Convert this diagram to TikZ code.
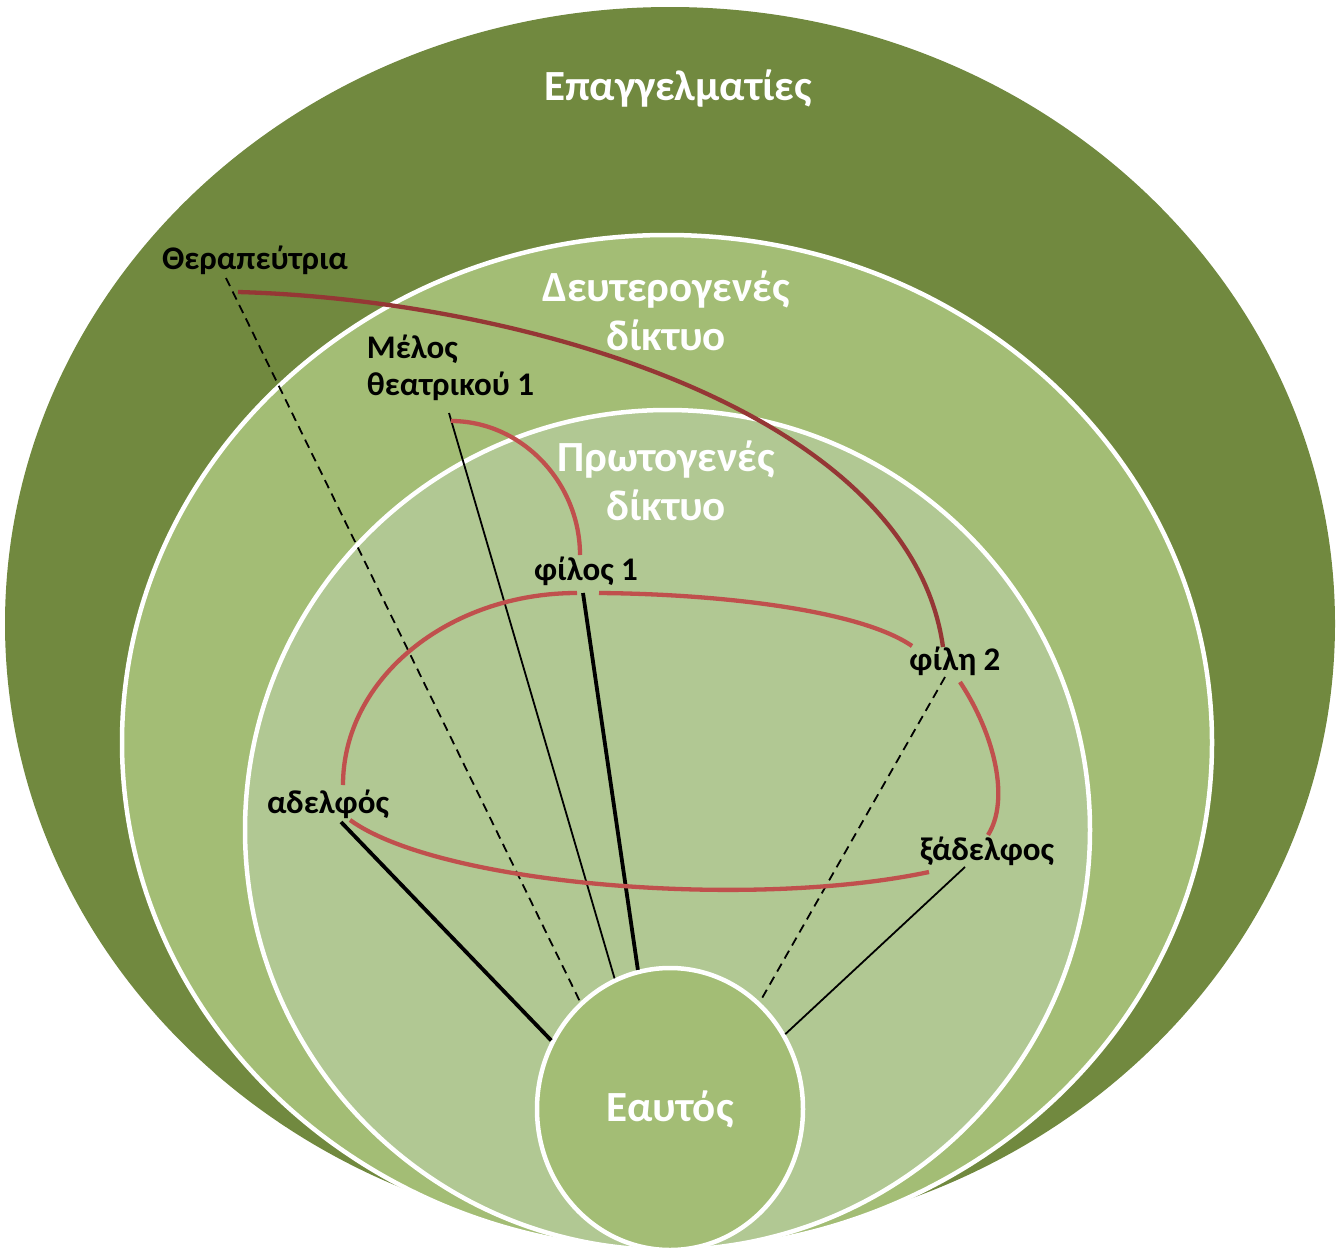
\documentclass[tikz,border=0pt]{standalone}
\usepackage{fontspec}
\setmainfont{Carlito}
\usetikzlibrary{shapes.geometric}
\definecolor{proGreen}{RGB}{113,137,63}
\definecolor{secGreen}{RGB}{163,189,117}
\definecolor{priGreen}{RGB}{177,200,147}
\definecolor{tieRed}{RGB}{192,80,77}
\definecolor{tieDark}{RGB}{149,55,53}
\tikzset{
  ring/.style={draw=white, line width=4.5pt},
  ringtitle/.style={text=white, font=\bfseries\fontsize{43}{49}\selectfont, align=center},
  person/.style={font=\bfseries\fontsize{33}{37}\selectfont, inner sep=0pt},
  strong/.style={line width=3.8pt},
  weak/.style={line width=1.8pt},
  loose/.style={line width=1.8pt, dash pattern=on 9pt off 6pt},
  tie/.style={draw=tieRed, line width=4.3pt},
}
\begin{document}
\begin{tikzpicture}[x=1pt,y=-1pt]
  \useasboundingbox (0,0) rectangle (1339,1250);
  % the three networks
  \fill[proGreen] (670,623.6) ellipse [x radius=665, y radius=616.6];
  \filldraw[ring, fill=secGreen] (667,742.5) ellipse [x radius=545, y radius=507.5];
  \filldraw[ring, fill=priGreen] (667.5,830) ellipse [x radius=422.5, y radius=420];
  \node[ring, ellipse, fill=secGreen, minimum width=266, minimum height=282, inner sep=0pt,
        text=white, font=\bfseries\fontsize{43}{49}\selectfont] (self) at (670,1109) {Εαυτός};

  \node[ringtitle, anchor=base] (pro) at (678,100) {Επαγγελματίες};
  \node[ringtitle] (sec) at (666,311) {Δευτερογενές\\δίκτυο};
  \node[ringtitle] (pri) at (666,481) {Πρωτογενές\\δίκτυο};

  % people
  \node[person, anchor=base] (ther) at (255,269) {Θεραπεύτρια};
  \node[person, align=left] (melos) at (450.5,368) {Μέλος\\θεατρικού 1};
  \node[person, anchor=base] (filos) at (586,580) {φίλος 1};
  \node[person, anchor=base] (fili) at (955,670) {φίλη 2};
  \node[person, anchor=base] (adelfos) at (328,813) {αδελφός};
  \node[person, anchor=base] (xadelfos) at (987,860) {ξάδελφος};

  \coordinate (therDash) at (226,278);
  \coordinate (therTie) at (238,292);
  \coordinate (melosLine) at (449,413);
  \coordinate (melosTie) at (451,421);
  \coordinate (filosTop) at (580,555);
  \coordinate (filosLine) at (583,593);
  \coordinate (filosL) at (577,593);
  \coordinate (filosR) at (599,593);
  \coordinate (filiTop) at (943,647);
  \coordinate (filiL) at (912,646);
  \coordinate (filiLine) at (945,677);
  \coordinate (filiR) at (960,682);
  \coordinate (xadTop) at (988,835);
  \coordinate (xadL) at (929,872);
  \coordinate (xadLine) at (965,867);
  \coordinate (adTop) at (343,785);
  \coordinate (adR) at (350,820);
  \coordinate (adLine) at (341,822);

  % ties to the self
  \draw[loose] (therDash) -- (self.130);
  \draw[weak] (melosLine) -- (self.113);
  \draw[strong] (filosLine) -- (self.103);
  \draw[strong] (adLine) -- (self.150);
  \draw[loose] (filiLine) -- (self.50);
  \draw[weak] (xadLine) -- (self.33);

  % ties between the others
  \draw[tie, draw=tieDark] (therTie) .. controls (520,300) and (910,410) .. (filiTop);
  \draw[tie] (melosTie) .. controls (522,421) and (580,483) .. (filosTop);
  \draw[tie] (adTop) .. controls (343,679) and (448,593) .. (filosL);
  \draw[tie] (filosR) .. controls (720,594) and (860,610) .. (filiL);
  \draw[tie] (filiR) .. controls (995,735) and (1010,800) .. (xadTop);
  \draw[tie] (xadL) .. controls (750,910) and (440,885) .. (adR);
\end{tikzpicture}
\end{document}
